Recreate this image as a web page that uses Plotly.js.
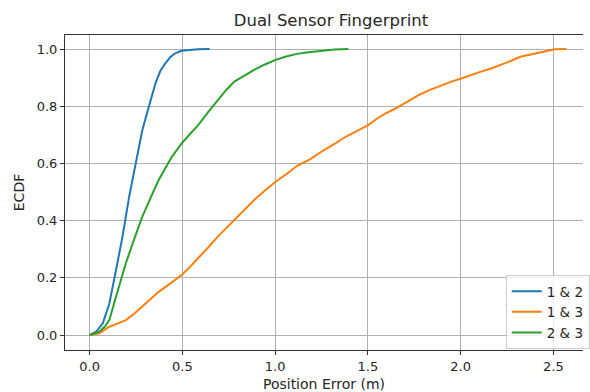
<!DOCTYPE html>
<html>
<head>
<meta charset="utf-8">
<script src="https://cdn.plot.ly/plotly-3.0.1.min.js"></script>
<style>html,body{margin:0;padding:0;background:#fff;}#chart{width:590px;height:392px;}</style>
</head>
<body>
<div id="chart"></div>
<script>
const seriesNames = ["1 & 2", "1 & 3", "2 & 3"];
const seriesColors = ["#1f77b4", "#ff7f0e", "#2ca02c"];

const x12 = [0, 0.036, 0.071, 0.106, 0.142, 0.177, 0.213, 0.248, 0.284, 0.319, 0.355, 0.38, 0.408, 0.435, 0.461, 0.496, 0.54, 0.585, 0.647];
const y12 = [0, 0.012, 0.041, 0.11, 0.227, 0.344, 0.484, 0.600, 0.717, 0.798, 0.880, 0.922, 0.950, 0.972, 0.985, 0.994, 0.997, 0.999, 1.0];

const x13 = [0, 0.053, 0.08, 0.106, 0.15, 0.195, 0.24, 0.284, 0.33, 0.372, 0.43, 0.496, 0.54, 0.585, 0.64, 0.691, 0.735, 0.780, 0.835, 0.887, 0.945, 1.002, 1.06, 1.117, 1.19, 1.259, 1.32, 1.383, 1.44, 1.502, 1.55, 1.596, 1.649, 1.71, 1.773, 1.835, 1.897, 1.95, 2.003, 2.055, 2.110, 2.165, 2.216, 2.27, 2.322, 2.38, 2.429, 2.47, 2.509, 2.571];
const y13 = [0, 0.006, 0.018, 0.029, 0.040, 0.052, 0.074, 0.099, 0.127, 0.151, 0.178, 0.210, 0.238, 0.268, 0.307, 0.344, 0.372, 0.402, 0.438, 0.472, 0.505, 0.536, 0.562, 0.591, 0.615, 0.645, 0.668, 0.694, 0.713, 0.734, 0.757, 0.775, 0.792, 0.816, 0.839, 0.857, 0.874, 0.886, 0.897, 0.910, 0.921, 0.932, 0.944, 0.958, 0.973, 0.981, 0.987, 0.993, 0.999, 1.0];

const x23 = [0, 0.053, 0.08, 0.106, 0.142, 0.17, 0.195, 0.24, 0.284, 0.33, 0.372, 0.443, 0.496, 0.54, 0.585, 0.64, 0.691, 0.735, 0.780, 0.83, 0.887, 0.945, 1.002, 1.06, 1.117, 1.18, 1.241, 1.32, 1.395];
const y23 = [0, 0.012, 0.028, 0.052, 0.134, 0.195, 0.251, 0.335, 0.414, 0.482, 0.542, 0.623, 0.670, 0.702, 0.734, 0.780, 0.822, 0.856, 0.886, 0.906, 0.927, 0.946, 0.962, 0.974, 0.983, 0.989, 0.994, 0.998, 1.0];

const xTicks = [0, 0.5, 1.0, 1.5, 2.0, 2.5];
const yTicks = [0, 0.2, 0.4, 0.6, 0.8, 1.0];

const xs = [x12, x13, x23];
const ys = [y12, y13, y23];
const traces = seriesNames.map((n, i) => ({
  x: xs[i], y: ys[i], name: n, type: "scatter", mode: "lines",
  line: {color: seriesColors[i], width: 2}
}));

const fam = "DejaVu Sans, sans-serif";
const tickFont = {family: fam, size: 13, color: "#262626"};
const labFont = {family: fam, size: 14, color: "#262626"};
const layout = {
  width: 590, height: 392,
  margin: {l: 65, r: 0, t: 35, b: 42},
  paper_bgcolor: "#fff", plot_bgcolor: "#fff",
  font: tickFont,
  title: {text: "Dual Sensor Fingerprint", font: {family: fam, size: 16.5, color: "#262626"}, x: 331/590, xanchor: "center", y: 1 - 20/392, yanchor: "middle"},
  xaxis: {
    range: [-0.133, 2.66], tickvals: xTicks, tickformat: ".1f", tickfont: tickFont,
    showgrid: true, gridcolor: "#b0b0b0", gridwidth: 1, zeroline: false,
    showline: true, linecolor: "#333", linewidth: 1, mirror: true,
    ticks: "outside", ticklen: 4, tickcolor: "#333",
    title: {text: "Position Error (m)", font: labFont, standoff: 8}
  },
  yaxis: {
    range: [-0.0524, 1.049], tickvals: yTicks, tickformat: ".1f", tickfont: tickFont,
    showgrid: true, gridcolor: "#b0b0b0", gridwidth: 1, zeroline: false,
    showline: true, linecolor: "#333", linewidth: 1, mirror: false,
    ticks: "outside", ticklen: 4, tickcolor: "#333",
    title: {text: "ECDF", font: labFont, standoff: 8}
  },
  legend: {
    x: 502/590, y: 1 - (275-35)/315, xanchor: "left", yanchor: "top",
    xref: "paper", yref: "paper",
    bgcolor: "rgba(255,255,255,0.8)", bordercolor: "#cccccc", borderwidth: 1,
    font: {family: fam, size: 13.5, color: "#262626"},
    tracegroupgap: 0
  },
  showlegend: true
};
Plotly.newPlot("chart", traces, layout, {displayModeBar: false, staticPlot: true});
</script>
</body>
</html>
